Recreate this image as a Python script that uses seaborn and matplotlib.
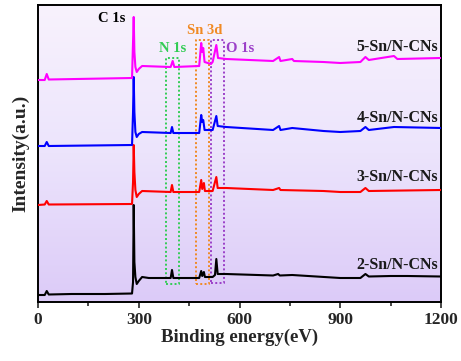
import seaborn as sns
import matplotlib.pyplot as plt
import numpy as np
import pandas as pd
from matplotlib.colors import LinearSegmentedColormap

# Binding energy (eV) and intensity (a.u.)
e_2sn = [0, 20, 26, 32, 100, 200, 280, 283, 285, 287, 290, 294, 300, 310, 330, 380, 395, 399, 403,
         480, 486, 489, 494, 497, 520, 527, 531, 535, 540, 560, 700, 715, 720, 757, 900, 960, 975, 985,
         1050, 1100, 1200]
i_2sn = [7, 7, 11, 7.5, 8, 8, 8.5, 20, 97, 40, 25, 18, 21, 25, 24, 24, 24, 32, 24,
         24, 31, 26, 30, 25, 25, 27, 43, 28, 28, 28, 26.5, 28, 26.5, 27, 24, 24, 28, 25.5,
         26, 26, 25.5]

e_3sn = [0, 20, 26, 32, 280, 283, 285, 287, 290, 294, 300, 310, 395, 399, 403,
         480, 486, 489, 494, 497, 520, 531, 535, 560, 700, 718, 722, 850, 900, 960, 975, 985, 1200]
i_3sn = [97, 97.5, 101, 97.5, 98, 120, 157, 130, 112, 105, 108, 111, 110, 117, 110,
         110, 122, 113, 119, 111, 111, 125, 114, 114, 112, 114, 112, 111, 110, 110, 114, 111, 112]

e_4sn = [0, 20, 26, 32, 280, 283, 285, 287, 290, 294, 300, 310, 395, 399, 403,
         480, 486, 489, 492, 496, 520, 531, 535, 560, 700, 718, 722, 757, 850, 900, 960, 975, 985,
         1060, 1200]
i_4sn = [156, 156, 160, 156, 157, 190, 225, 190, 170, 165, 168, 170, 169, 175, 169,
         169, 187, 180, 182, 172, 172, 186, 176, 175, 172, 176, 172, 174, 171, 170, 171, 175, 172,
         175, 174]

e_5sn = [0, 20, 26, 32, 280, 283, 285, 287, 290, 294, 300, 310, 395, 401, 406,
         480, 486, 489, 492, 496, 515, 520, 531, 536, 560, 700, 718, 722, 757, 762, 850, 900,
         960, 975, 985, 1060, 1070, 1200]
i_5sn = [222, 222, 228, 222.5, 224, 260, 285, 250, 235, 230, 233, 236, 235, 241, 235,
         236, 259, 250, 254, 240, 238, 240, 257, 244, 243, 241, 245, 241, 243, 241, 240, 239,
         240, 245, 242, 246, 243, 244]

samples = ["2-Sn/N-CNs", "3-Sn/N-CNs", "4-Sn/N-CNs", "5-Sn/N-CNs"]
colors = ["#000000", "#ff0000", "#0000ff", "#ff00ff"]
label_y = [37, 125, 184, 255]

# dotted boxes: (x0, x1, y0, y1, colour, label, label x, label y, ha)
boxes = [
    (381, 421, 18, 244, "#33cc55", "N 1s", 400, 254, "center"),
    (470, 510, 18, 262, "#f08a24", "Sn 3d", 497, 272, "center"),
    (515, 554, 19, 262, "#9b3fc8", "O 1s", 560, 254, "left"),
]

frames = []
for name, e, i in zip(samples, [e_2sn, e_3sn, e_4sn, e_5sn], [i_2sn, i_3sn, i_4sn, i_5sn]):
    frames.append(pd.DataFrame({"energy": e, "intensity": i, "sample": name}))
df = pd.concat(frames, ignore_index=True)

sns.set_theme(style="white")
plt.rcParams["font.family"] = ["Liberation Serif", "DejaVu Serif"]
plt.rcParams["font.weight"] = "bold"

fig = plt.figure(figsize=(4.61, 3.61), dpi=100)
ax = fig.add_axes([38 / 461, 1 - 302 / 361, 403 / 461, 297 / 361])

# lavender gradient background
cmap = LinearSegmentedColormap.from_list("bg", ["#f8f2fd", "#ece4fc", "#dccbf8"])
grad = np.linspace(0, 1, 256).reshape(-1, 1)
ax.imshow(grad, cmap=cmap, aspect="auto", extent=[0, 1, 0, 1],
          transform=ax.transAxes, zorder=0)

sns.lineplot(data=df, x="energy", y="intensity", hue="sample", palette=colors,
             hue_order=samples, sort=False, estimator=None, linewidth=1.5,
             legend=False, ax=ax, zorder=3)

for x0, x1, y0, y1, c, lab, lx, ly, ha in boxes:
    ax.plot([x0, x1, x1, x0, x0], [y0, y0, y1, y1, y0], ls=(0, (1, 1.2)), color=c,
            lw=1.4, zorder=2)
    ax.text(lx, ly, lab, color=c, fontsize=10.5, fontweight="bold", ha=ha, va="center")

ax.text(218, 284, "C 1s", color="black", fontsize=10.5, fontweight="bold",
        ha="center", va="center")

for name, y in zip(samples, label_y):
    ax.text(1192, y, name, color="#1a1a1a", fontsize=11.5, fontweight="bold",
            ha="right", va="center")

ax.set_xlim(0, 1200)
ax.set_ylim(0, 297)
ax.set_xticks([0, 300, 600, 900, 1200])
ax.set_xticks([150, 450, 750, 1050], minor=True)
ax.set_yticks([])
ax.tick_params(axis="x", which="major", direction="out", length=4, width=1.2,
               labelsize=12.5, pad=3, bottom=True)
ax.tick_params(axis="x", which="minor", direction="out", length=3, width=1.2, bottom=True)
for lab in ax.get_xticklabels():
    lab.set_fontweight("bold")
for s in ax.spines.values():
    s.set_linewidth(1.4)
    s.set_color("black")

ax.set_xlabel("Binding energy(eV)", fontsize=13.5, fontweight="bold", labelpad=1)
ax.set_ylabel("Intensity(a.u.)", fontsize=14, fontweight="bold", labelpad=6)

fig.savefig("out.png", dpi=100)
